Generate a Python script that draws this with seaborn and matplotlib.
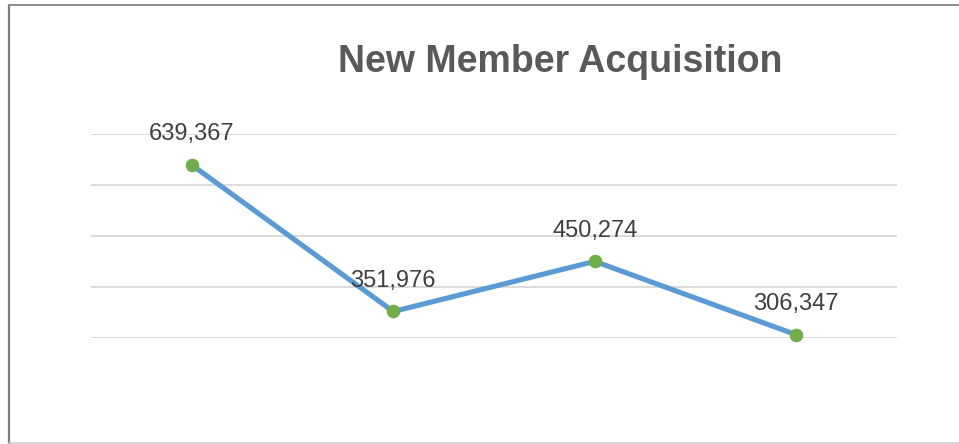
import matplotlib
matplotlib.use("Agg")
import matplotlib.pyplot as plt
import seaborn as sns
import pandas as pd
from matplotlib.lines import Line2D

# data
periods = ["P1", "P2", "P3", "P4"]
members = [639367, 351976, 450274, 306347]
grid_levels = [300000, 400000, 500000, 600000, 700000]

sns.set_theme(style="white")
plt.rcParams['font.family'] = ['Liberation Sans', 'DejaVu Sans']

df = pd.DataFrame({"period": periods, "members": members})

fig = plt.figure(figsize=(9.59, 4.44), dpi=100)
ax = fig.add_axes([91 / 959, 106 / 444, 806 / 959, 204 / 444])

for g in grid_levels:
    ax.axhline(g, color="#D9D9D9", lw=1.3, zorder=0)

sns.lineplot(data=df, x="period", y="members", ax=ax, color="#5B9BD5",
             lw=3.7, marker="o", markersize=9, markerfacecolor="#70AD47",
             markeredgecolor="#70AD47", zorder=3, clip_on=False)

for i, v in enumerate(members):
    ax.annotate(f"{v:,}", (i, v), xytext=(0, 22), textcoords="offset points",
                ha="center", va="center", fontsize=17, color="#404040", zorder=4)

ax.set_xlim(-0.5, len(periods) - 0.5)
ax.set_ylim(grid_levels[0], grid_levels[-1])
ax.set_xlabel("")
ax.set_ylabel("")
ax.set_xticks([])
ax.set_yticks([])
for s in ax.spines.values():
    s.set_visible(False)
ax.patch.set_alpha(0)

fig.text(560 / 959, 1 - 62 / 444, "New Member Acquisition", ha="center", va="center",
         fontsize=27, fontweight="bold", color="#595959")

# outer frame
fig.add_artist(Line2D([8.5 / 959, 8.5 / 959], [0, 1 - 5.5 / 444], color="#7F7F7F", lw=1.6))
fig.add_artist(Line2D([8.5 / 959, 1], [1 - 5.5 / 444, 1 - 5.5 / 444], color="#8C8C8C", lw=1.4))
fig.add_artist(Line2D([8.5 / 959, 1], [1 / 444, 1 / 444], color="#D0D0D0", lw=1.2))

fig.savefig("out.png", dpi=100, facecolor="white")
